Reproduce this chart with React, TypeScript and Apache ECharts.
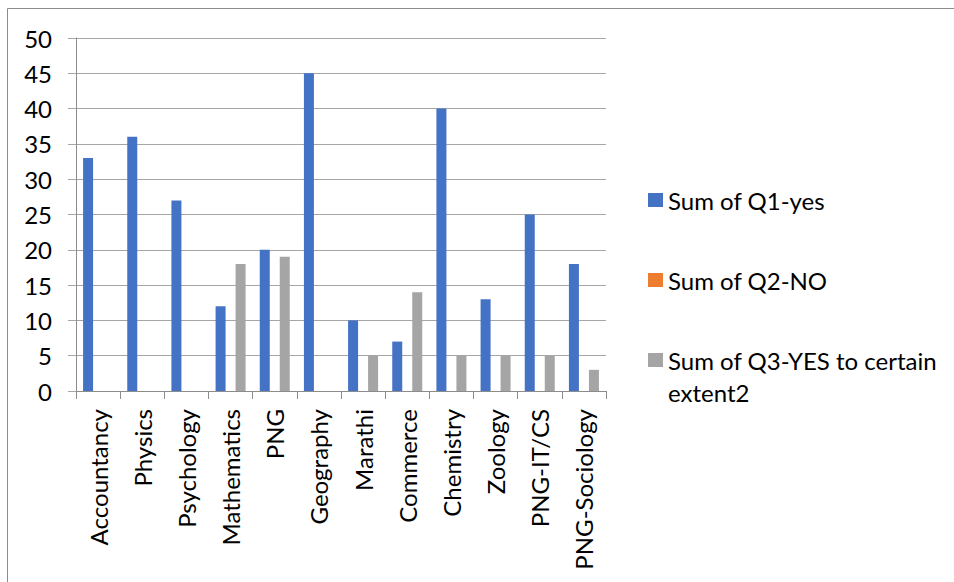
import React, { useEffect, useRef } from "react";
import * as echarts from "echarts";

const categories = [
  "Accountancy",
  "Physics",
  "Psychology",
  "Mathematics",
  "PNG",
  "Geography",
  "Marathi",
  "Commerce",
  "Chemistry",
  "Zoology",
  "PNG-IT/CS",
  "PNG-Sociology",
];
const q1Yes = [33, 36, 27, 12, 20, 45, 10, 7, 40, 13, 25, 18];
const q2No = [0, 0, 0, 0, 0, 0, 0, 0, 0, 0, 0, 0];
const q3Partly = [0, 0, 0, 18, 19, 0, 5, 14, 5, 5, 5, 3];
const seriesNames = ["Sum of Q1-yes", "Sum of Q2-NO", "Sum of Q3-YES to certain extent2"];
const colors = ["#4472C4", "#ED7D31", "#A5A5A5"];

const FONT = "Lato";

export default function App() {
  const ref = useRef<HTMLDivElement>(null);
  useEffect(() => {
    if (!ref.current) return;
    const chart = echarts.init(ref.current, null, { renderer: "svg" });
    const mkLegend = (name: string, centerY: number, label?: string) => ({
      data: [name],
      orient: "vertical",
      left: 648,
      top: centerY - 13,
      itemWidth: 15,
      itemHeight: 14,
      selectedMode: false,
      icon: "rect",
      padding: 0,
      formatter: label ? () => label : undefined,
      textStyle: { fontFamily: FONT, fontSize: 24, color: "#000", lineHeight: 26 },
    });
    chart.setOption({
      animation: false,
      backgroundColor: "#fff",
      grid: { left: 76, top: 38, right: 348, bottom: 191, containLabel: false },
      legend: [
        mkLegend(seriesNames[0], 200),
        mkLegend(seriesNames[1], 280),
        mkLegend(seriesNames[2], 360, "Sum of Q3-YES to certain"),
      ],
      graphic: [
        {
          type: "rect",
          shape: { x: 7.5, y: 8.5, width: 1200, height: 1200 },
          style: { fill: "none", stroke: "#8c8c8c", lineWidth: 1 },
          silent: true,
        },
        {
          type: "text",
          x: 668,
          y: 392,
          style: {
            text: "extent2",
            fontFamily: FONT,
            fontSize: 24,
            fill: "#000",
            verticalAlign: "middle",
          },
        },
      ],
      xAxis: {
        type: "category",
        data: categories,
        boundaryGap: true,
        axisLine: { show: true, lineStyle: { color: "#8c8c8c", width: 1 } },
        axisTick: { show: true, length: 8, lineStyle: { color: "#8c8c8c" } },
        axisLabel: {
          rotate: 90,
          margin: 18,
          interval: 0,
          fontFamily: FONT,
          fontSize: 24,
          color: "#000",
        },
        splitLine: { show: false },
      },
      yAxis: {
        type: "value",
        min: 0,
        max: 50,
        interval: 5,
        axisLine: { show: true, lineStyle: { color: "#8c8c8c", width: 1 } },
        axisTick: { show: true, length: 8, lineStyle: { color: "#a6a6a6" } },
        axisLabel: { margin: 24, fontFamily: FONT, fontSize: 24, color: "#000" },
        splitLine: { show: true, lineStyle: { color: "#a6a6a6", width: 1 } },
      },
      series: [
        { name: seriesNames[0], type: "bar", data: q1Yes, barWidth: 10, barGap: "0%", itemStyle: { color: colors[0] } },
        { name: seriesNames[1], type: "bar", data: q2No, barWidth: 10, barGap: "0%", itemStyle: { color: colors[1] } },
        { name: seriesNames[2], type: "bar", data: q3Partly, barWidth: 10, barGap: "0%", itemStyle: { color: colors[2] } },
      ],
    });
    return () => chart.dispose();
  }, []);
  return (
    <div
      ref={ref}
      style={{ position: "fixed", left: 0, top: 0, width: 954, height: 582 }}
    />
  );
}
